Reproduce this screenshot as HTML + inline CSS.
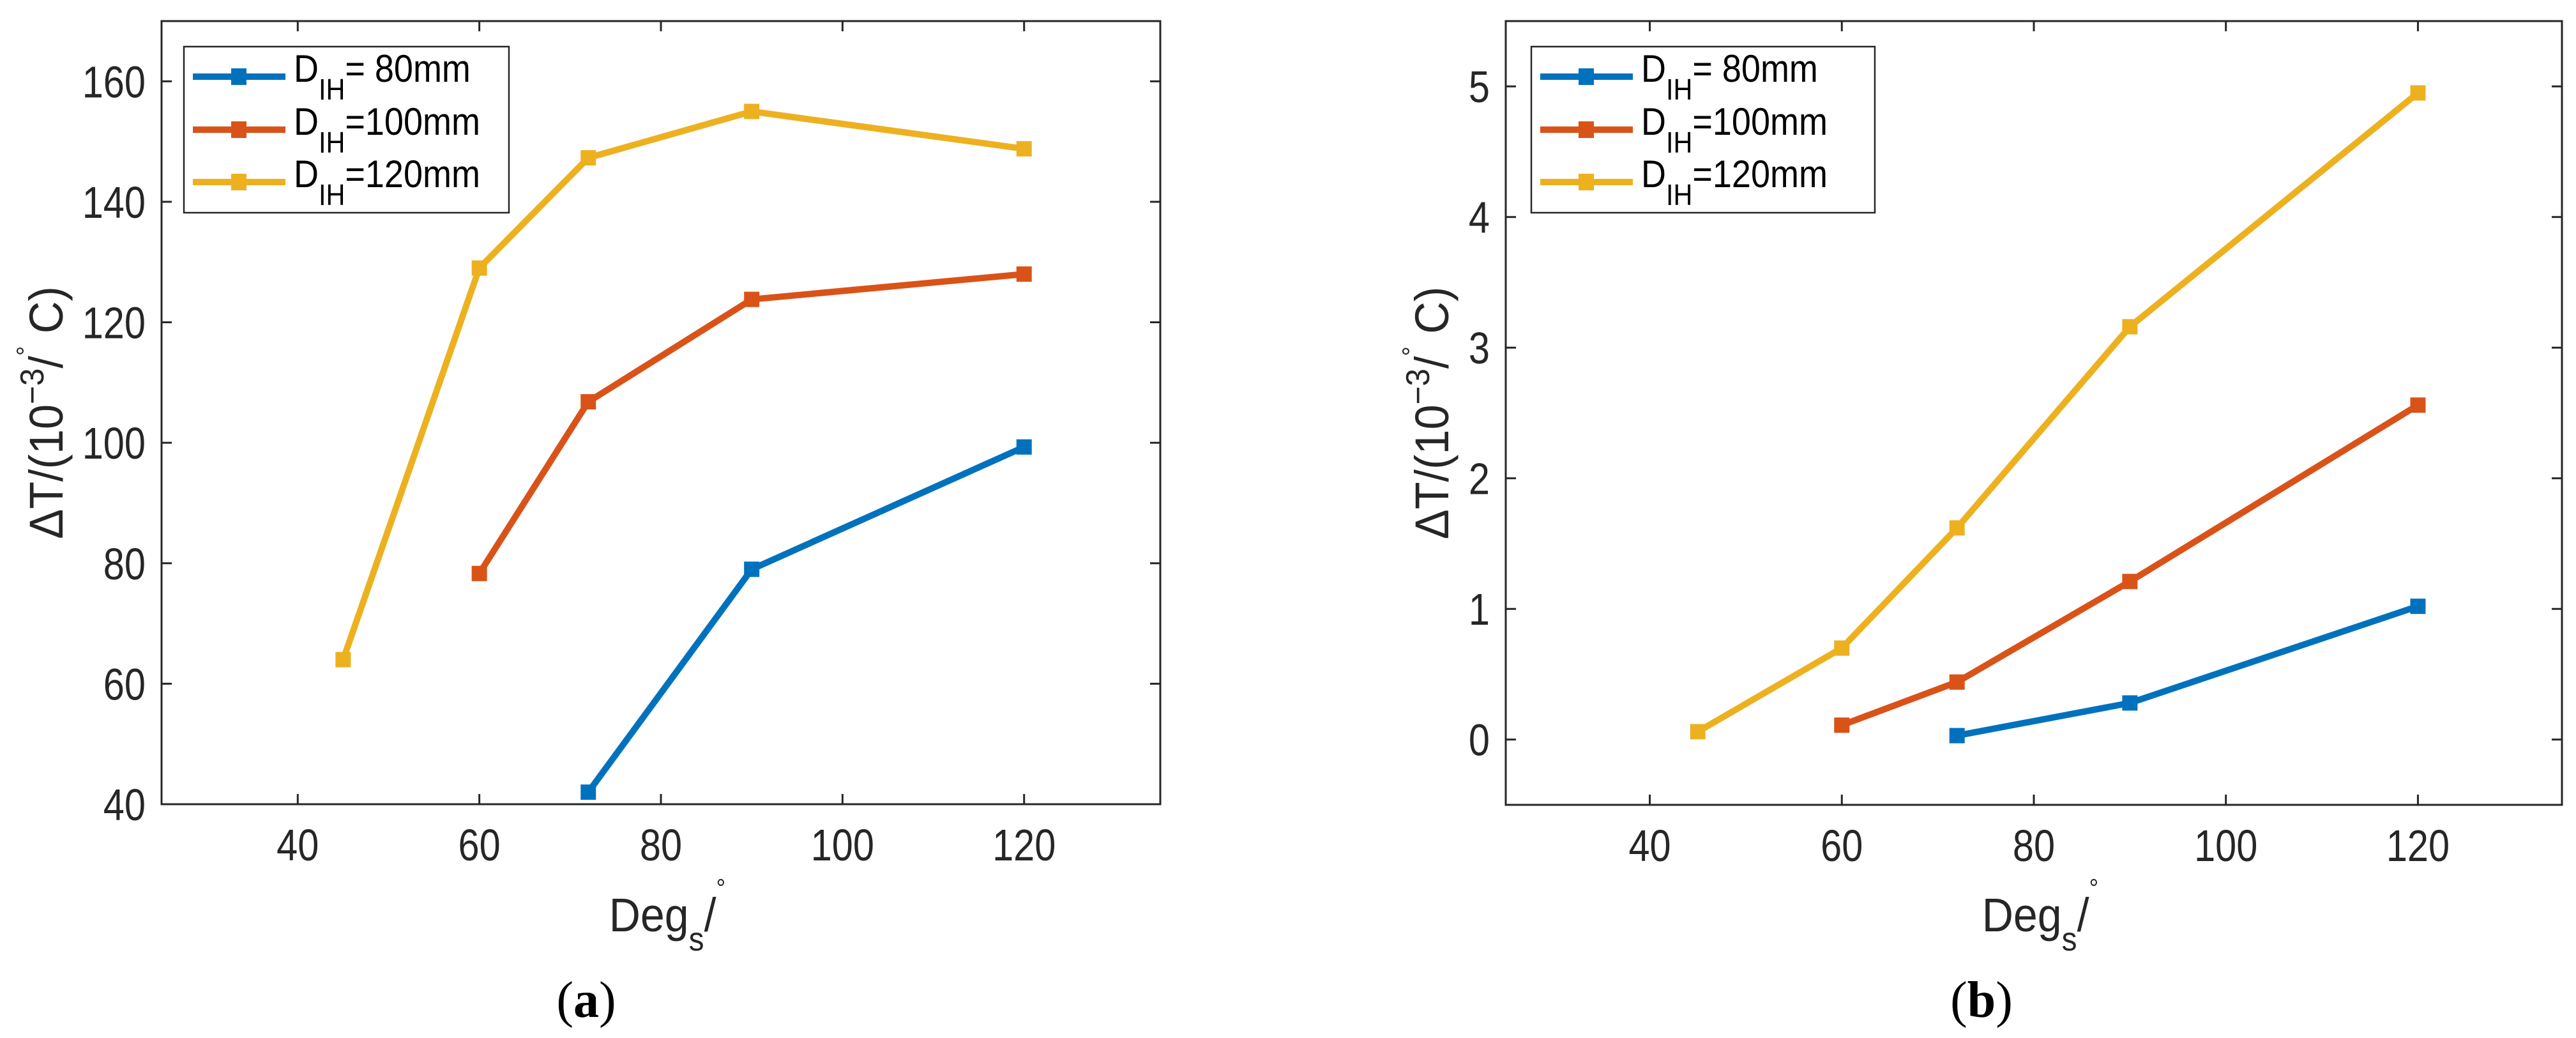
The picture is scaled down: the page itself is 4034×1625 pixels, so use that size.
<!DOCTYPE html>
<html><head><meta charset="utf-8">
<style>
html,body{margin:0;padding:0;background:#fff;}
svg{display:block;font-family:"Liberation Sans",sans-serif;}
</style></head>
<body>
<svg id="fig" width="4034" height="1625" viewBox="0 0 4034 1625"></svg>
<script>
const xCats = [45, 60, 72, 90, 120];
const seriesNames = ["= 80mm", "=100mm", "=120mm"];
const colors = ["#0072BD", "#D95319", "#EDB120"];
const aX80 = [72, 90, 120];
const aY80 = [42, 79, 99.3];
const aX100 = [60, 72, 90, 120];
const aY100 = [78.3, 106.8, 123.8, 128];
const aX120 = [45, 60, 72, 90, 120];
const aY120 = [64, 129, 147.3, 155, 148.8];
const bX80 = [72, 90, 120];
const bY80 = [0.03, 0.28, 1.02];
const bX100 = [60, 72, 90, 120];
const bY100 = [0.11, 0.44, 1.21, 2.56];
const bX120 = [45, 60, 72, 90, 120];
const bY120 = [0.06, 0.7, 1.62, 3.16, 4.95];
const xTicks = [40, 60, 80, 100, 120];
const aYTicks = [40, 60, 80, 100, 120, 140, 160];
const bYTicks = [0, 1, 2, 3, 4, 5];

const NS = "http://www.w3.org/2000/svg";
const svg = document.getElementById("fig");
function mk(tag, attrs, parent, text) {
  const e = document.createElementNS(NS, tag);
  for (const k in attrs) e.setAttribute(k, attrs[k]);
  if (text !== undefined) e.textContent = text;
  (parent || svg).appendChild(e);
  return e;
}

function panel(cfg) {
  const g = mk("g", {});
  
  
  const L = cfg.L, R = cfg.R, T = cfg.T, B = cfg.B;
  const sx = v => L + (v - cfg.xmin) / (cfg.xmax - cfg.xmin) * (R - L);
  const sy = v => B - (v - cfg.ymin) / (cfg.ymax - cfg.ymin) * (B - T);
  const box = mk("rect", {x: L, y: T, width: R - L, height: B - T, fill: "none", stroke: "#262626", "stroke-width": 3}, g);
  
  
  xTicks.forEach(t => {
    const x = sx(t);
    mk("line", {x1: x, y1: B, x2: x, y2: B - 16, stroke: "#262626", "stroke-width": 3}, g);
    mk("line", {x1: x, y1: T, x2: x, y2: T + 16, stroke: "#262626", "stroke-width": 3}, g);
    const tl = mk("text", {x: x, y: B + 88, "font-size": 70, fill: "#262626", "text-anchor": "middle", transform: `translate(${x},0) scale(0.85,1) translate(${-x},0)`}, g, String(t));
    
    
  });
  cfg.yTicks.forEach(t => {
    const y = sy(t);
    mk("line", {x1: L, y1: y, x2: L + 16, y2: y, stroke: "#262626", "stroke-width": 3}, g);
    mk("line", {x1: R, y1: y, x2: R - 16, y2: y, stroke: "#262626", "stroke-width": 3}, g);
    const xr = L - 25;
    const tl = mk("text", {x: xr, y: y + 25, "font-size": 70, fill: "#262626", "text-anchor": "end", transform: `translate(${xr},0) scale(0.85,1) translate(${-xr},0)`}, g, String(t));
    
    
  });
  cfg.series.forEach((s, i) => {
    const sg = mk("g", {}, g);
    
    
    const pts = s.xs.map((x, j) => sx(x) + "," + sy(s.ys[j])).join(" ");
    mk("polyline", {points: pts, fill: "none", stroke: colors[i], "stroke-width": 10, "stroke-linejoin": "round"}, sg);
    s.xs.forEach((x, j) => {
      const m = mk("rect", {x: sx(x) - 12, y: sy(s.ys[j]) - 12, width: 24, height: 24, fill: colors[i]}, sg);
      
      
    });
  });
  const lg = mk("g", {}, g);
  
  
  mk("rect", {x: cfg.legL, y: 73, width: cfg.legW, height: 260, fill: "#fff", stroke: "#262626", "stroke-width": 2.5}, lg);
  const rows = [120, 203, 285];
  seriesNames.forEach((nm, i) => {
    const y = rows[i];
    const ent = mk("g", {}, lg);
    
    
    const x0 = cfg.legL + 14;
    mk("line", {x1: x0, y1: y, x2: x0 + 145, y2: y, stroke: colors[i], "stroke-width": 10}, ent);
    mk("rect", {x: x0 + 72 - 12, y: y - 13, width: 24, height: 26, fill: colors[i]}, ent);
    const tx = x0 + 158;
    const t = mk("text", {x: tx, y: y + 8, "font-size": 60, fill: "#000", transform: `translate(${tx},0) scale(0.9,1) translate(${-tx},0)`}, ent);
    mk("tspan", {}, t, "D");
    mk("tspan", {"font-size": 46, dy: 28}, t, "IH");
    mk("tspan", {dy: -28}, t, nm);
  });
  const yl = mk("text", {x: 0, y: 0, "font-size": 74, fill: "#262626", "text-anchor": "middle", transform: `translate(${cfg.ylabX},${(T + B) / 2}) rotate(-90) scale(0.95,1)`}, g);
  
  
  mk("tspan", {}, yl, "ΔT/(10");
  mk("tspan", {"font-size": 52, dy: -30}, yl, "−3");
  mk("tspan", {dy: 30}, yl, "/");
  mk("tspan", {"font-size": 40, dy: -44}, yl, "°");
  mk("tspan", {dy: 44}, yl, " C)");
  const xc = (L + R) / 2 + 10;
  const xl = mk("text", {x: xc, y: 1458, "font-size": 74, fill: "#262626", "text-anchor": "middle", transform: `translate(${xc},0) scale(0.92,1) translate(${-xc},0)`}, g);
  
  
  mk("tspan", {}, xl, "Deg");
  mk("tspan", {"font-size": 52, dy: 30}, xl, "s");
  mk("tspan", {dy: -30}, xl, "/");
  mk("tspan", {"font-size": 40, dy: -54}, xl, "°");
  const pl = mk("text", {x: cfg.capX, y: 1592, "font-size": 80, fill: "#000", "text-anchor": "middle", "font-family": "Liberation Serif, serif"}, g);
  
  
  mk("tspan", {}, pl, "(");
  mk("tspan", {"font-weight": "bold"}, pl, cfg.cap);
  mk("tspan", {}, pl, ")");
}

panel({name: "panel-a", L: 253, R: 1817, T: 33, B: 1259, xmin: 25, xmax: 135, ymin: 40, ymax: 170,
  yTicks: aYTicks, legL: 288, legW: 509, ylabX: 98, capX: 918, cap: "a",
  series: [{key: "80mm", xs: aX80, ys: aY80}, {key: "100mm", xs: aX100, ys: aY100}, {key: "120mm", xs: aX120, ys: aY120}]});
panel({name: "panel-b", L: 2358, R: 4012, T: 33, B: 1260, xmin: 25, xmax: 135, ymin: -0.5, ymax: 5.5,
  yTicks: bYTicks, legL: 2398, legW: 538, ylabX: 2268, capX: 3103, cap: "b",
  series: [{key: "80mm", xs: bX80, ys: bY80}, {key: "100mm", xs: bX100, ys: bY100}, {key: "120mm", xs: bX120, ys: bY120}]});
</script>
</body></html>
